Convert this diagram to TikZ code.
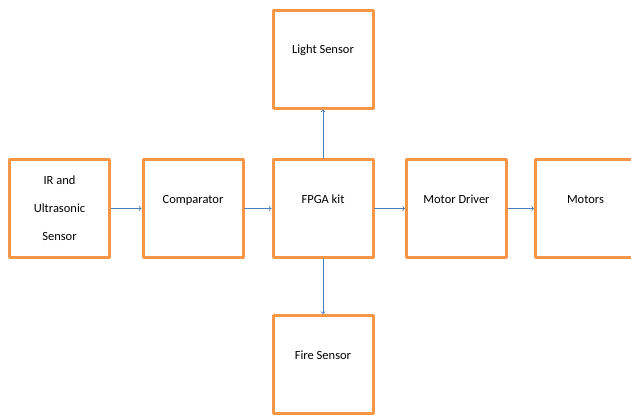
\documentclass[tikz,border=0pt]{standalone}
\usepackage{fontspec}
\setmainfont{Carlito}
\usetikzlibrary{arrows}
\definecolor{boxorange}{RGB}{247,150,70}
\definecolor{arrowblue}{RGB}{74,126,187}
\begin{document}
\begin{tikzpicture}[line cap=round,line join=round,>=to,x=1pt,y=-1pt]
				\useasboundingbox (0,0) rectangle (631,415);
				\tikzset{block/.style={draw=boxorange,line width=3pt,fill=white,minimum width=100pt,minimum height=98pt,inner sep=0pt,font=\fontsize{12.5}{28}\selectfont,align=center},
					upper/.style={text height=9pt,text depth=20pt},
					link/.style={->,draw=arrowblue,line width=0.8pt}}
				\node [block] (ir) at (59.5,208.5) {IR and\\Ultrasonic\\Sensor};
				\node [block,upper] (comp) at (193,208.5) {Comparator};
				\node [block,upper] (fpga) at (323,208.5) {FPGA kit};
				\node [block,upper] (drv) at (456.5,208.5) {Motor Driver};
				\node [block,upper] (mot) at (585.5,208.5) {Motors};
				\node [block,upper] (light) at (323,59) {Light Sensor};
				\node [block,upper] (fire) at (323,364.5) {Fire Sensor};
				\draw [link] (ir)-- (comp);
				\draw [link] (comp)-- (fpga);
				\draw [link] (fpga)-- (drv);
				\draw [link] (drv)-- (mot);
				\draw [link] (fpga)-- (light);
				\draw [link] (fpga)-- (fire);
			\end{tikzpicture}
\end{document}
